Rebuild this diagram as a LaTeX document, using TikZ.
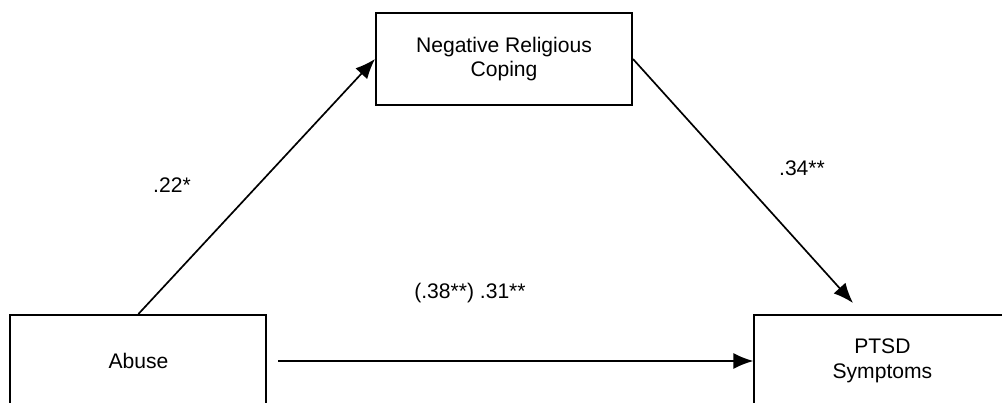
\documentclass[tikz,border=0pt]{standalone}
\usepackage{fontspec}
\setmainfont{Liberation Sans}
\usetikzlibrary{arrows.meta}

\tikzset{
  every node/.style={font=\fontsize{15}{17.5}\selectfont},
  varbox/.style={draw, line width=1.4pt, minimum width=6.4cm, minimum height=2.3cm, inner sep=0pt, align=center},
  path/.style={-{Latex[length=0.5cm,width=0.4cm]}, line width=1.2pt},
}

\begin{document}
\begin{tikzpicture}
    \useasboundingbox (0,0) rectangle (25.05,10.075);
    \node[varbox] (abuse)  at (3.46,1.05)  {Abuse};
    \node[varbox] (coping) at (12.6,8.6)   {Negative Religious\\Coping};
    \node[varbox] (ptsd)   at (22.06,1.05) {PTSD\\Symptoms};
    \coordinate (abuseout) at (6.95,1.05);
    \coordinate (ptsdin)   at (21.325,2.5);
    \draw[path] (abuse.north) -- (coping.west);
    \draw[path] (coping.east) -- (ptsdin);
    \draw[path] (abuseout) -- (ptsd.west);
    \node (a) at (4.3,5.45)   {.22*};
    \node (b) at (20.05,5.875) {.34**};
    \node (c) at (11.75,2.75) {(.38**) .31**};
\end{tikzpicture}
\end{document}
